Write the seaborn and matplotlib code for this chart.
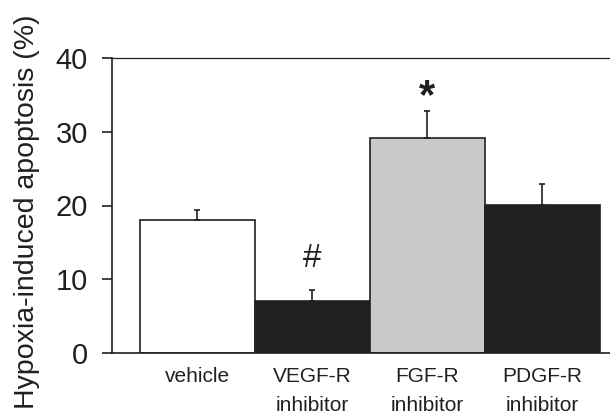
import matplotlib
matplotlib.use("Agg")
import matplotlib.pyplot as plt
import seaborn as sns
import pandas as pd

categories = ["vehicle", "VEGF-R\ninhibitor", "FGF-R\ninhibitor", "PDGF-R\ninhibitor"]
means = [18.0, 7.0, 29.1, 20.1]
sem = [1.4, 1.5, 3.7, 2.8]
bar_colors = ["#ffffff", "#231f20", "#c8c9cb", "#231f20"]
marks = ["", "#", "*", ""]
yticks = [0, 10, 20, 30, 40]

sns.set_theme(style="ticks")
plt.rcParams["font.family"] = ["Liberation Sans", "DejaVu Sans"]

df = pd.DataFrame({"group": categories, "value": means})

fig = plt.figure(figsize=(6.10, 4.16), dpi=100)
ax = fig.add_axes([112 / 610, 1 - 353 / 416, 1 - 112 / 610 + 0.01, (353 - 58) / 416])

sns.barplot(data=df, x="group", y="value", hue="group", palette=bar_colors,
            width=1.0, edgecolor="#231f20", linewidth=1.2, legend=False, ax=ax)

xs = list(range(len(categories)))
ax.errorbar(xs, means, yerr=[[0] * len(sem), sem], fmt="none",
            ecolor="#231f20", elinewidth=1.2, capsize=2.2, capthick=1.2)

for x, m, s, t in zip(xs, means, sem, marks):
    if t == "#":
        ax.text(x, m + s + 4.3, t, ha="center", va="center", fontsize=24, color="#231f20")
    elif t == "*":
        ax.text(x, m + s - 0.8, t, ha="center", va="bottom", fontsize=30,
                fontweight="bold", color="#231f20")

ax.set_ylim(0, 40)
ax.set_xlim(-0.74, 3.64)
ax.set_yticks(yticks)
ax.set_yticklabels([str(v) for v in yticks], fontsize=21, color="#231f20")
ax.tick_params(axis="y", direction="out", length=7.2, width=1.2, color="#231f20", pad=10)
ax.tick_params(axis="x", length=0, labelsize=15, colors="#231f20", pad=10)
for lab in ax.get_xticklabels():
    lab.set_linespacing(1.7)
ax.set_xlabel("")
ax.set_ylabel("Hypoxia-induced apoptosis (%)", fontsize=20.5, color="#231f20")
ax.yaxis.set_label_coords(-0.143, 0.478)

for side in ["left", "bottom", "top"]:
    ax.spines[side].set_visible(True)
    ax.spines[side].set_linewidth(1.2)
    ax.spines[side].set_color("#231f20")
ax.spines["right"].set_visible(False)
ax.spines["top"].set_linewidth(0.9)

fig.savefig("out.png", dpi=100)
